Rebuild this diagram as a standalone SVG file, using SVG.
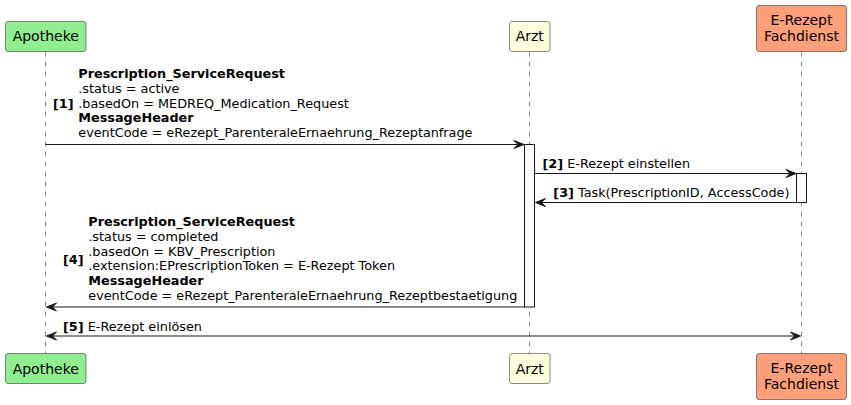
<svg xmlns="http://www.w3.org/2000/svg" width="851" height="405" viewBox="0 0 851 405">
<style>
text{font-family:"DejaVu Sans","Liberation Sans",sans-serif;fill:#000}
.p{font-size:14px;text-anchor:middle}
.m{font-size:12.8px}
.b{font-weight:bold}
.life{stroke:#181818;stroke-width:0.5;stroke-dasharray:5,5;fill:none}
.box{stroke:#181818;stroke-width:0.5}
.act{fill:#fff;stroke:#181818;stroke-width:1}
.ln{stroke:#181818;stroke-width:1;fill:none}
.hd{fill:#181818;stroke:#181818;stroke-width:1}
</style>
<rect width="851" height="405" fill="#fff"/>
<g id="lifelines">
<line class="life" x1="45.5" y1="51.5" x2="45.5" y2="353.5"/>
<line class="life" x1="529.5" y1="51.5" x2="529.5" y2="353.5"/>
<line class="life" x1="801.5" y1="51.5" x2="801.5" y2="353.5"/>
</g>
<g id="apotheke">
<rect class="box" x="5.5" y="21.5" width="80.5" height="30" rx="2.5" fill="#90EE90"/>
<text class="p" x="45.75" y="41">Apotheke</text>
<rect class="box" x="5.5" y="353.5" width="80.5" height="30" rx="2.5" fill="#90EE90"/>
<text class="p" x="45.75" y="373.5">Apotheke</text>
</g>
<g id="arzt">
<rect class="box" x="509.5" y="21.5" width="40.5" height="30" rx="2.5" fill="#FFFFE0"/>
<text class="p" x="529.75" y="41">Arzt</text>
<rect class="box" x="509.5" y="353.5" width="40.5" height="30" rx="2.5" fill="#FFFFE0"/>
<text class="p" x="529.75" y="373.5">Arzt</text>
</g>
<g id="fachdienst">
<rect class="box" x="756.5" y="5.5" width="90" height="46" rx="2.5" fill="#FFA07A"/>
<text class="p" x="801.5" y="25">E-Rezept</text>
<text class="p" x="801.5" y="41">Fachdienst</text>
<rect class="box" x="756.5" y="353.5" width="90" height="46" rx="2.5" fill="#FFA07A"/>
<text class="p" x="801.5" y="373">E-Rezept</text>
<text class="p" x="801.5" y="389">Fachdienst</text>
</g>
<g id="activations">
<rect class="act" x="524.5" y="144.5" width="10" height="162.5"/>
<rect class="act" x="796.5" y="173.5" width="10" height="29"/>
</g>
<g id="connectors">
<line class="ln" x1="45.5" y1="144.5" x2="520" y2="144.5"/>
<polygon class="hd" points="514,140.5 524,144.5 514,148.5 518,144.5"/>
<line class="ln" x1="534.5" y1="173.5" x2="792" y2="173.5"/>
<polygon class="hd" points="786,169.5 796,173.5 786,177.5 790,173.5"/>
<line class="ln" x1="540" y1="202.5" x2="796.5" y2="202.5"/>
<polygon class="hd" points="545.5,198.5 535.5,202.5 545.5,206.5 541.5,202.5"/>
<line class="ln" x1="50" y1="307" x2="524.5" y2="307"/>
<polygon class="hd" points="56.5,303 46.5,307 56.5,311 52.5,307"/>
<line class="ln" x1="50" y1="336" x2="797" y2="336"/>
<polygon class="hd" points="56.5,332 46.5,336 56.5,340 52.5,336"/>
<polygon class="hd" points="790.5,332 800.5,336 790.5,340 794.5,336"/>
</g>
<g id="labels">
<text class="m b" x="53" y="107.7">[1]</text>
<text class="m" x="78.3">
<tspan class="b" x="78.3" y="78.3">Prescription_ServiceRequest</tspan>
<tspan x="78.3" y="93">.status = active</tspan>
<tspan x="78.3" y="107.7">.basedOn = MEDREQ_Medication_Request</tspan>
<tspan class="b" x="78.3" y="122.4">MessageHeader</tspan>
<tspan x="78.3" y="137.1">eventCode = eRezept_ParenteraleErnaehrung_Rezeptanfrage</tspan>
</text>
<text class="m" x="542.5" y="167.5"><tspan class="b">[2]</tspan> E-Rezept einstellen</text>
<text class="m" x="553.3" y="196.5"><tspan class="b">[3]</tspan> Task(PrescriptionID, AccessCode)</text>
<text class="m b" x="63" y="264.3">[4]</text>
<text class="m" x="88.3">
<tspan class="b" x="88.3" y="226.3">Prescription_ServiceRequest</tspan>
<tspan x="88.3" y="241">.status = completed</tspan>
<tspan x="88.3" y="255.7">.basedOn = KBV_Prescription</tspan>
<tspan x="88.3" y="270.4">.extension:EPrescriptionToken = E-Rezept Token</tspan>
<tspan class="b" x="88.3" y="285.1">MessageHeader</tspan>
<tspan x="88.3" y="299.8">eventCode = eRezept_ParenteraleErnaehrung_Rezeptbestaetigung</tspan>
</text>
<text class="m" x="63" y="330.5"><tspan class="b">[5]</tspan> E-Rezept einlösen</text>
</g>
</svg>
